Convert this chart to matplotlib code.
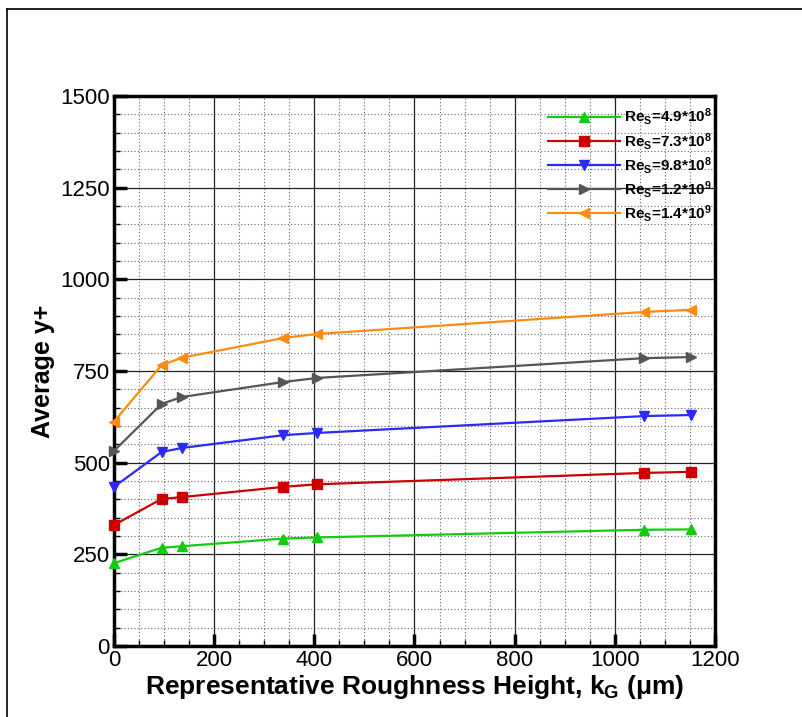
import matplotlib
matplotlib.use("Agg")
import matplotlib.pyplot as plt
from matplotlib.lines import Line2D
from matplotlib.ticker import MultipleLocator

plt.rcParams['font.family'] = ['Liberation Sans', 'DejaVu Sans']
plt.rcParams['mathtext.fontset'] = 'custom'
plt.rcParams['mathtext.rm'] = 'Liberation Sans'
plt.rcParams['mathtext.bf'] = 'Liberation Sans:bold'
plt.rcParams['mathtext.it'] = 'Liberation Sans:italic'

kG = [0, 95, 135, 338, 405, 1058, 1153]
re_49e8 = [226, 268, 272, 293, 296, 317, 318]
re_73e8 = [330, 401, 406, 434, 441, 472, 475]
re_98e8 = [434, 529, 540, 575, 581, 627, 630]
re_12e9 = [532, 660, 679, 720, 731, 785, 788]
re_14e9 = [612, 766, 786, 840, 851, 911, 917]

labels = [r"Re$_\mathregular{S}$=4.9*10$^\mathregular{8}$",
          r"Re$_\mathregular{S}$=7.3*10$^\mathregular{8}$",
          r"Re$_\mathregular{S}$=9.8*10$^\mathregular{8}$",
          r"Re$_\mathregular{S}$=1.2*10$^\mathregular{9}$",
          r"Re$_\mathregular{S}$=1.4*10$^\mathregular{9}$"]
series = [re_49e8, re_73e8, re_98e8, re_12e9, re_14e9]
colors = ['#11cc11', '#cc0000', '#2a2aff', '#555555', '#ff8c10']
markers = ['^', 's', 'v', '>', '<']

fig = plt.figure(figsize=(8.03, 7.17), dpi=100)
ax = fig.add_axes([114/803, 1-646/717, (715-114)/803, (646-96)/717])

for ys, c, m, lab in zip(series, colors, markers, labels):
    ax.plot(kG, ys, color=c, marker=m, markersize=7.5, linewidth=1.6, label=lab, zorder=3, clip_on=False)

ax.set_xlim(0, 1200)
ax.set_ylim(0, 1500)
ax.xaxis.set_major_locator(MultipleLocator(200))
ax.xaxis.set_minor_locator(MultipleLocator(50))
ax.yaxis.set_major_locator(MultipleLocator(250))
ax.yaxis.set_minor_locator(MultipleLocator(50))

ax.grid(which='major', color='#222222', linestyle='-', linewidth=0.9, zorder=1)
ax.grid(which='minor', color='#666666', linestyle=(0, (1, 2)), linewidth=0.8, zorder=1)
ax.set_axisbelow(True)

ax.tick_params(which='major', direction='in', length=9, width=2.5, labelsize=16, pad=3)
ax.tick_params(which='minor', direction='in', length=4, width=1.0)
for s in ax.spines.values():
    s.set_linewidth(2.5)

ax.set_xlabel(r"Representative Roughness Height, k$_\mathregular{G}$ ($\mathregular{\mu}$m)",
              fontsize=19, fontweight='bold', labelpad=1)
ax.set_ylabel("Average y+", fontsize=18, fontweight='bold', labelpad=4)

leg = ax.legend(loc='upper right', bbox_to_anchor=(1.018, 1.006), frameon=False,
                handlelength=4.7, handletextpad=0.3, labelspacing=0.2,
                prop={'weight': 'bold', 'size': 11}, markerfirst=True,
                borderaxespad=0.5)

# outer frame
fig.add_artist(Line2D([7/803, 7/803], [0, 1-9/717], color='black', linewidth=1.2, transform=fig.transFigure))
fig.add_artist(Line2D([7/803, 1], [1-9/717, 1-9/717], color='black', linewidth=1.2, transform=fig.transFigure))

fig.savefig("out.png", dpi=100)
